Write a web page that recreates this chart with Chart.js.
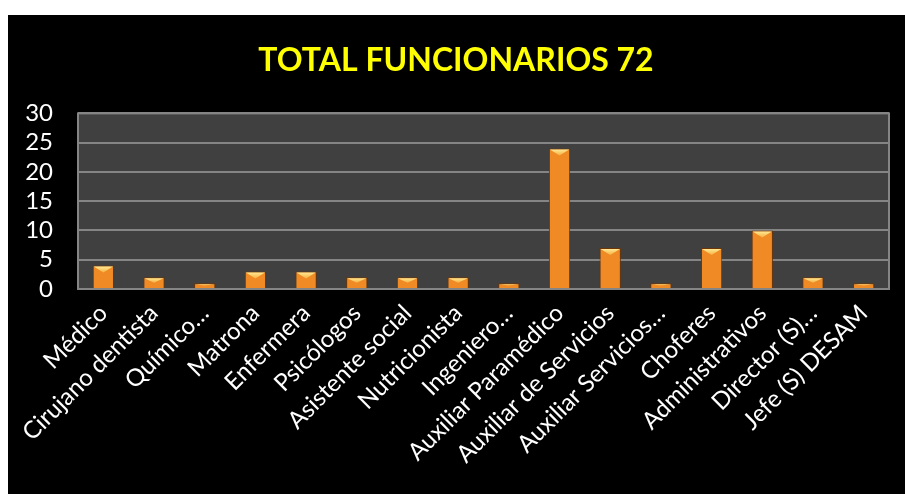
<!DOCTYPE html>
<html>
<head>
<meta charset="utf-8">
<script src="https://cdn.jsdelivr.net/npm/chart.js@4.4.1/dist/chart.umd.min.js"></script>
<style>
  html, body { margin: 0; padding: 0; background: #fff; }
  #caja { position: absolute; left: 8px; top: 15px; width: 897px; height: 479px; background: #000; }
</style>
</head>
<body>
<div id="caja"><canvas id="grafico" width="897" height="479"></canvas></div>
<script>
// categorias (eje x)
var cargos = ['Médico', 'Cirujano dentista', 'Químico…', 'Matrona', 'Enfermera', 'Psicólogos',
  'Asistente social', 'Nutricionista', 'Ingeniero…', 'Auxiliar Paramédico', 'Auxiliar de Servicios',
  'Auxiliar Servicios…', 'Choferes', 'Administrativos', 'Director (S)…', 'Jefe (S) DESAM'];

// cantidad de funcionarios por cargo
var cantidad = [4, 2, 1, 3, 3, 2, 2, 2, 1, 24, 7, 1, 7, 10, 2, 1];

// eje y
var yMin = 0, yMax = 30, yPaso = 5;

var titulo = 'TOTAL FUNCIONARIOS 72';

// fondo gris del area del grafico
var fondoArea = {
  id: 'fondoArea',
  beforeDraw: function (chart) {
    var a = chart.chartArea, ctx = chart.ctx;
    ctx.save();
    ctx.fillStyle = '#404040';
    ctx.fillRect(a.left, a.top, a.right - a.left, a.bottom - a.top);
    ctx.restore();
  },
  afterDraw: function (chart) {
    var a = chart.chartArea, ctx = chart.ctx;
    ctx.save();
    ctx.strokeStyle = '#858585';
    ctx.lineWidth = 2;
    ctx.strokeRect(a.left, a.top, a.right - a.left, a.bottom - a.top);
    ctx.restore();
  }
};

// brillo amarillo arriba de cada barra
var biselBarras = {
  id: 'biselBarras',
  afterDatasetsDraw: function (chart) {
    var ctx = chart.ctx;
    chart.getDatasetMeta(0).data.forEach(function (bar) {
      var p = bar.getProps(['x', 'y', 'base', 'width'], true);
      var l = p.x - p.width / 2, r = p.x + p.width / 2;
      var h = Math.min(7, (p.base - p.y) / 2);
      ctx.save();
      var g = ctx.createLinearGradient(0, p.y, 0, p.y + h);
      g.addColorStop(0, '#fff2a0');
      g.addColorStop(1, '#f7b040');
      ctx.fillStyle = g;
      ctx.beginPath();
      ctx.moveTo(l + 1, p.y + 1);
      ctx.lineTo(r - 1, p.y + 1);
      ctx.lineTo(p.x, p.y + h);
      ctx.closePath();
      ctx.fill();
      ctx.restore();
    });
  }
};

var ctx = document.querySelector('#grafico');
var barChart = new Chart(ctx, {
  type: 'bar',
  data: {
    labels: cargos,
    datasets: [{
      data: cantidad,
      backgroundColor: function (c) {
        var el = c.element;
        if (!el || !isFinite(el.x) || !isFinite(el.width)) return '#f08a24';
        var w = el.width;
        var g = c.chart.ctx.createLinearGradient(el.x - w / 2, 0, el.x + w / 2, 0);
        g.addColorStop(0, '#c0610f');
        g.addColorStop(0.2, '#f58a22');
        g.addColorStop(0.5, '#f9a040');
        g.addColorStop(0.8, '#f08420');
        g.addColorStop(1, '#a8500c');
        return g;
      },
      borderColor: '#6e3506',
      borderWidth: 1,
      borderSkipped: 'bottom',
      barPercentage: 0.42,
      categoryPercentage: 1
    }]
  },
  options: {
    responsive: false,
    animation: false,
    layout: { padding: { left: 15, right: 16, top: 0, bottom: 0 } },
    plugins: {
      legend: { display: false },
      tooltip: { enabled: false },
      title: {
        display: true,
        text: titulo,
        color: '#ffff00',
        font: { family: 'Lato', size: 32, weight: 'bold' },
        padding: { top: 26, bottom: 34 }
      }
    },
    scales: {
      x: {
        grid: { display: false },
        border: { display: false },
        ticks: {
          color: '#ffffff',
          font: { family: 'Lato', size: 24 },
          minRotation: 45,
          maxRotation: 45,
          autoSkip: false,
          padding: 2
        },
        afterFit: function (s) { s.height = 205; }
      },
      y: {
        min: yMin,
        max: yMax,
        grid: { color: '#858585', lineWidth: 2, drawTicks: false },
        border: { display: false },
        ticks: {
          stepSize: yPaso,
          autoSkip: false,
          color: '#ffffff',
          font: { family: 'Lato', size: 24 },
          padding: 25
        },
        afterFit: function (s) { s.width = 55; }
      }
    }
  },
  plugins: [fondoArea, biselBarras]
});
</script>
</body>
</html>
